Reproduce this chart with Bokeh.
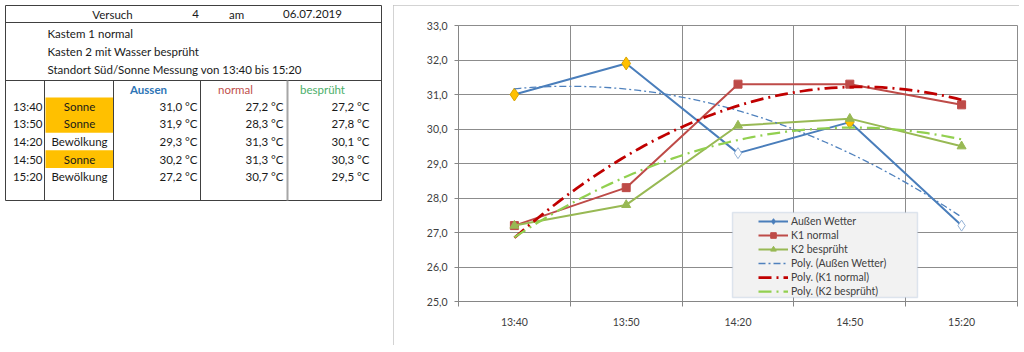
import numpy as np
from bokeh.plotting import figure
from bokeh.models import Range1d, FixedTicker, BoxAnnotation, Legend, LegendItem, ColumnDataSource
from bokeh.layouts import row, column
from bokeh.embed import file_html
from bokeh.resources import INLINE
from bokeh.core.properties import value

# ---------------- data ----------------
versuch_label = "Versuch"
versuch_nr = "4"
am_label = "am"
datum = "06.07.2019"
notes = ["Kastem 1 normal",
         "Kasten 2 mit Wasser besprüht",
         "Standort Süd/Sonne Messung von 13:40 bis 15:20"]
col_heads = ["Aussen", "normal", "besprüht"]
times = ["13:40", "13:50", "14:20", "14:50", "15:20"]
weather = ["Sonne", "Sonne", "Bewölkung", "Sonne", "Bewölkung"]
aussen = [31.0, 31.9, 29.3, 30.2, 27.2]
k1_normal = [27.2, 28.3, 31.3, 31.3, 30.7]
k2_bespr = [27.2, 27.8, 30.1, 30.3, 29.5]
series_names = ["Außen Wetter", "K1 normal", "K2 besprüht"]
y_ticks = [25, 26, 27, 28, 29, 30, 31, 32, 33]

FONT = "Lato"
n = len(times)

def fmt(v):
    return f"{v:.1f}".replace(".", ",")

# ---------------- table (left) ----------------
t = figure(width=392, height=352, x_range=Range1d(0, 392), y_range=Range1d(352, 0),
           x_axis_type=None, y_axis_type=None, toolbar_location=None,
           output_backend="svg", min_border=0, outline_line_color=None)
t.grid.visible = False

row_top, row_h = 97.0, 17.6
sun_rows = [i for i, w in enumerate(weather) if w == "Sonne"]
t.quad(left=[45] * len(sun_rows), right=[113] * len(sun_rows),
       top=[row_top + i * row_h for i in sun_rows],
       bottom=[row_top + (i + 1) * row_h for i in sun_rows],
       fill_color="#FFC000", line_color=None)

t.segment(x0=[5, 5, 5, 5], x1=[381, 381, 381, 381], y0=[5, 22, 80, 200], y1=[5, 22, 80, 200],
          line_color="#404040", line_width=1)
t.segment(x0=[5, 381, 44, 113, 200], x1=[5, 381, 44, 113, 200],
          y0=[5, 5, 80, 80, 80], y1=[200, 200, 200, 200, 200],
          line_color="#404040", line_width=1)
t.segment(x0=[287], x1=[287], y0=[80], y1=[200], line_color="#a6a6a6", line_width=2)

tk = dict(text_font=value(FONT), text_font_size="11.5px", text_color="#1a1a1a",
          text_baseline="middle")
t.text(x=[112, 195, 236, 312], y=[13.5] * 4, text=[versuch_label, versuch_nr, am_label, datum],
       text_align="center", **tk)
t.text(x=[47] * len(notes), y=[33, 51, 69][:len(notes)], text=notes, text_align="left", **tk)

head_colors = ["#2E75B6", "#C0504D", "#4CAF6A"]
head_x = [148, 235, 322]
for hx, hc, ht, fs in zip(head_x, head_colors, col_heads, ["bold", "normal", "normal"]):
    t.text(x=[hx], y=[88.5], text=[ht], text_align="center", text_font=value(FONT),
           text_font_size="11.5px", text_color=hc, text_font_style=fs, text_baseline="middle")

row_y = [row_top + (i + 0.5) * row_h for i in range(n)]
t.text(x=[42] * n, y=row_y, text=times, text_align="right", **tk)
t.text(x=[79] * n, y=row_y, text=weather, text_align="center", **tk)
for cx, vals in zip([197, 283, 369], [aussen, k1_normal, k2_bespr]):
    t.text(x=[cx] * n, y=row_y, text=[fmt(v) + " °C" for v in vals], text_align="right", **tk)

# ---------------- chart (right) ----------------
x_pos = np.arange(n) + 0.5
p = figure(width=626, height=340, x_range=Range1d(0, n), y_range=Range1d(y_ticks[0], y_ticks[-1]),
           toolbar_location=None, output_backend="svg",
           min_border_left=65, min_border_right=2, min_border_top=20, min_border_bottom=44,
           outline_line_color="#8c8c8c", background_fill_color="white", border_fill_color="white",
           margin=(5, 0, 0, 1),
           styles={"outline": "1px solid #c4c4c4", "outline-offset": "-1px"})

p.xaxis.ticker = FixedTicker(ticks=[float(v) for v in x_pos], minor_ticks=list(range(0, n + 1)))
p.xaxis.major_label_overrides = {float(v): tt for v, tt in zip(x_pos, times)}
p.xaxis.major_tick_out = 0
p.xaxis.major_tick_in = 0
p.xaxis.minor_tick_out = 5
p.xaxis.minor_tick_in = 0
p.xaxis.major_label_standoff = 9
p.xgrid.ticker = FixedTicker(ticks=list(range(0, n + 1)))

p.yaxis.ticker = FixedTicker(ticks=y_ticks)
p.yaxis.major_label_overrides = {v: fmt(v) for v in y_ticks}
p.yaxis.major_tick_out = 4
p.yaxis.major_tick_in = 0
p.yaxis.minor_tick_out = 0
p.yaxis.minor_tick_in = 0
p.yaxis.major_label_standoff = 7

for ax in (p.xaxis, p.yaxis):
    ax.axis_line_color = "#868686"
    ax.major_tick_line_color = "#868686"
    ax.minor_tick_line_color = "#868686"
    ax.major_label_text_font = FONT
    ax.major_label_text_font_size = "10.5px"
    ax.major_label_text_color = "#404040"

p.grid.grid_line_color = "#8c8c8c"
p.grid.grid_line_alpha = 1.0

fill_map = {"Sonne": "#FFC000", "Bewölkung": "#FFFFFF"}
line_map = {"Sonne": "#D9A400", "Bewölkung": "#95B3D7"}
size_map = {"Sonne": 13, "Bewölkung": 11}
src = ColumnDataSource(dict(x=x_pos, aussen=aussen, k1=k1_normal, k2=k2_bespr,
                            hl_fill=[fill_map[w] for w in weather],
                            hl_line=[line_map[w] for w in weather],
                            hl_size=[size_map[w] for w in weather]))

c_a, c_k1, c_k2 = "#4A7EBB", "#BE4B48", "#98B954"
r_a_l = p.line("x", "aussen", source=src, line_color=c_a, line_width=2)
r_a_m = p.scatter("x", "aussen", source=src, marker="diamond", size=7, fill_color=c_a, line_color=c_a)
p.scatter("x", "aussen", source=src, marker="diamond", size="hl_size",
          fill_color="hl_fill", line_color="hl_line", line_width=1)
r_1_l = p.line("x", "k1", source=src, line_color=c_k1, line_width=2)
r_1_m = p.scatter("x", "k1", source=src, marker="square", size=8, fill_color=c_k1, line_color=c_k1)
r_2_l = p.line("x", "k2", source=src, line_color=c_k2, line_width=2)
r_2_m = p.scatter("x", "k2", source=src, marker="triangle", size=9, fill_color=c_k2, line_color=c_k2)

# polynomial (order 2) trendlines fitted to the series, as in the spreadsheet
xs_fit = np.linspace(x_pos[0], x_pos[-1], 80)
def trend(y):
    return np.polyval(np.polyfit(x_pos, y, 2), xs_fit)

r_t_a = p.line(xs_fit, trend(aussen), line_color="#4F81BD", line_width=1.3, line_dash="7 3 2 3")
r_t_1 = p.line(xs_fit, trend(k1_normal), line_color="#C00000", line_width=2.75, line_dash="13 5 2 5")
r_t_2 = p.line(xs_fit, trend(k2_bespr), line_color="#92D050", line_width=2.25, line_dash="13 5 2 5")

p.add_layout(BoxAnnotation(left=339, right=524, top=207, bottom=292,
                           left_units="canvas", right_units="canvas",
                           top_units="canvas", bottom_units="canvas",
                           fill_color="#f2f2f2", fill_alpha=1, line_color="#9fb7d5", line_width=1.5))

items = [LegendItem(label=series_names[0], renderers=[r_a_l, r_a_m]),
         LegendItem(label=series_names[1], renderers=[r_1_l, r_1_m]),
         LegendItem(label=series_names[2], renderers=[r_2_l, r_2_m]),
         LegendItem(label="Poly. (" + series_names[0] + ")", renderers=[r_t_a]),
         LegendItem(label="Poly. (" + series_names[1] + ")", renderers=[r_t_1]),
         LegendItem(label="Poly. (" + series_names[2] + ")", renderers=[r_t_2])]
legend = Legend(items=items, location=(300, 3), orientation="vertical",
                glyph_width=30, glyph_height=14, label_height=14, spacing=0, padding=2,
                margin=0, label_standoff=3, label_text_font=FONT, label_text_font_size="10.5px",
                label_text_color="#404040", border_line_color=None, background_fill_alpha=0)
p.add_layout(legend)

layout = row(column(t), column(p))
open("out.html", "w").write(file_html(layout, INLINE))
